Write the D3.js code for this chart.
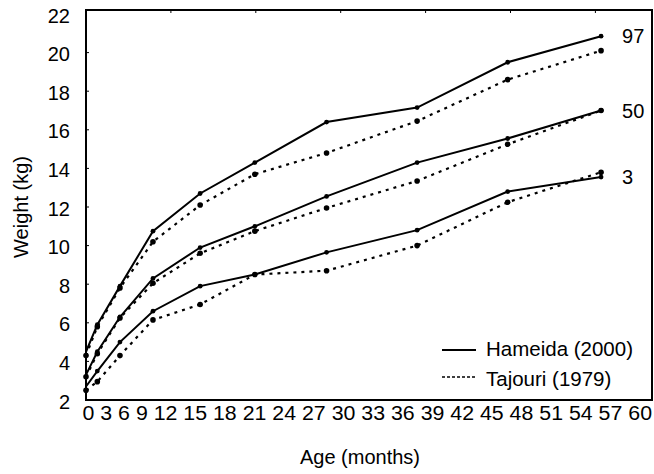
<!DOCTYPE html>
<html>
<head>
<meta charset="utf-8">
<script src="https://cdn.jsdelivr.net/npm/d3@7"></script>
<style>
  html, body { margin: 0; padding: 0; background: #fff; }
  svg { display: block; font-family: "Liberation Sans", Arial, sans-serif; }
</style>
</head>
<body>
<svg id="chart" width="654" height="474"></svg>
<script>
// ---- data ----
const months     = [0, 1.2, 3.6, 7.1, 12.1, 17.9, 25.5, 35.1, 44.7, 54.6];
const hameida97  = [4.5, 5.9, 7.9, 10.75, 12.7, 14.3, 16.4, 17.15, 19.5, 20.85];
const tajouri97  = [4.3, 5.8, 7.8, 10.2, 12.1, 13.7, 14.8, 16.45, 18.6, 20.1];
const hameida50  = [3.3, 4.5, 6.3, 8.3, 9.9, 11.0, 12.55, 14.3, 15.55, 17.0];
const tajouri50  = [3.2, 4.4, 6.25, 8.05, 9.6, 10.75, 11.95, 13.35, 15.25, 17.0];
const hameida3   = [2.7, 3.5, 5.0, 6.6, 7.9, 8.5, 9.65, 10.8, 12.8, 13.55];
const tajouri3   = [2.5, 2.95, 4.3, 6.15, 6.95, 8.5, 8.7, 10.0, 12.25, 13.8];
const percentileLabels = ["97", "50", "3"];
const xTickLabels = [0, 3, 6, 9, 12, 15, 18, 21, 24, 27, 30, 33, 36, 39, 42, 45, 48, 51, 54, 57, 60];
const yTicks = [2, 4, 6, 8, 10, 12, 14, 16, 18, 20, 22];
const legendNames = ["Hameida (2000)", "Tajouri (1979)"];

// ---- layout ----
const svg = d3.select("#chart");
const L = 86, R = 652, T = 10, B = 400;
const x = d3.scaleLinear().domain([0, 60]).range([L, R]);
const y = d3.scaleLinear().domain([2, 22]).range([400, 14]);

// frame
svg.append("rect").attr("x", L).attr("y", T).attr("width", R - L).attr("height", B - T)
  .attr("fill", "none").attr("stroke", "#000").attr("stroke-width", 2);

// small inward ticks
svg.append("g").selectAll("line").data(yTicks.slice(1, -1)).join("line")
  .attr("x1", L).attr("x2", L + 3).attr("y1", d => y(d)).attr("y2", d => y(d))
  .attr("stroke", "#000").attr("stroke-width", 1);
svg.append("g").selectAll("line").data([9, 18, 27, 36, 45, 54]).join("line")
  .attr("x1", d => x(d)).attr("x2", d => x(d)).attr("y1", T).attr("y2", T + 3)
  .attr("stroke", "#000").attr("stroke-width", 1);

// y axis labels
const yAxis = svg.append("g").attr("transform", `translate(${L},0)`)
  .call(d3.axisLeft(y).tickValues(yTicks).tickSize(0).tickPadding(16));
yAxis.select(".domain").remove();
yAxis.selectAll("text").attr("font-size", 20).attr("fill", "#000")
  .attr("font-family", "Liberation Sans, Arial, sans-serif").attr("dy", "0.4em");

// x axis labels (typed, condensed string under the axis)
svg.append("text")
  .attr("x", x(0) - 3.5).attr("y", 420)
  .attr("font-size", 20).attr("fill", "#000")
  .attr("textLength", x(60) - x(0) + 3.5)
  .attr("lengthAdjust", "spacingAndGlyphs")
  .text(xTickLabels.join(" "));

// axis titles
svg.append("text").attr("x", 360).attr("y", 464).attr("text-anchor", "middle")
  .attr("font-size", 20).text("Age (months)");
svg.append("text").attr("transform", "translate(28,207) rotate(-90)")
  .attr("text-anchor", "middle").attr("font-size", 20).text("Weight (kg)");

// lines
const line = d3.line().x(d => x(d[0])).y(d => y(d[1]));
const hameida = [hameida97, hameida50, hameida3];
const tajouri = [tajouri97, tajouri50, tajouri3];

tajouri.forEach(vals => {
  const pts = months.map((m, i) => [m, vals[i]]);
  svg.append("path").attr("d", line(pts)).attr("fill", "none")
    .attr("stroke", "#000").attr("stroke-width", 2.2).attr("stroke-dasharray", "3,5");
  svg.append("g").selectAll("circle").data(pts).join("circle")
    .attr("cx", d => x(d[0])).attr("cy", d => y(d[1])).attr("r", 2.8).attr("fill", "#000");
});
hameida.forEach(vals => {
  const pts = months.map((m, i) => [m, vals[i]]);
  svg.append("path").attr("d", line(pts)).attr("fill", "none")
    .attr("stroke", "#000").attr("stroke-width", 2);
  svg.append("g").selectAll("circle").data(pts.slice(1)).join("circle")
    .attr("cx", d => x(d[0])).attr("cy", d => y(d[1])).attr("r", 2.4).attr("fill", "#000");
});

// percentile labels
svg.append("g").selectAll("text").data(hameida).join("text")
  .attr("x", x(months[months.length - 1]) + 21)
  .attr("y", d => y(d[d.length - 1]))
  .attr("dy", "0.36em").attr("font-size", 20)
  .text((d, i) => percentileLabels[i]);

// legend
const lg = svg.append("g");
lg.append("line").attr("x1", 442).attr("x2", 476).attr("y1", 350).attr("y2", 350)
  .attr("stroke", "#000").attr("stroke-width", 2);
lg.append("line").attr("x1", 442).attr("x2", 476).attr("y1", 377).attr("y2", 377)
  .attr("stroke", "#000").attr("stroke-width", 1.3).attr("stroke-dasharray", "3,2");
lg.append("text").attr("x", 486).attr("y", 356).attr("font-size", 20.5).text(legendNames[0]);
lg.append("text").attr("x", 486).attr("y", 386).attr("font-size", 20.5).text(legendNames[1]);
</script>
</body>
</html>
